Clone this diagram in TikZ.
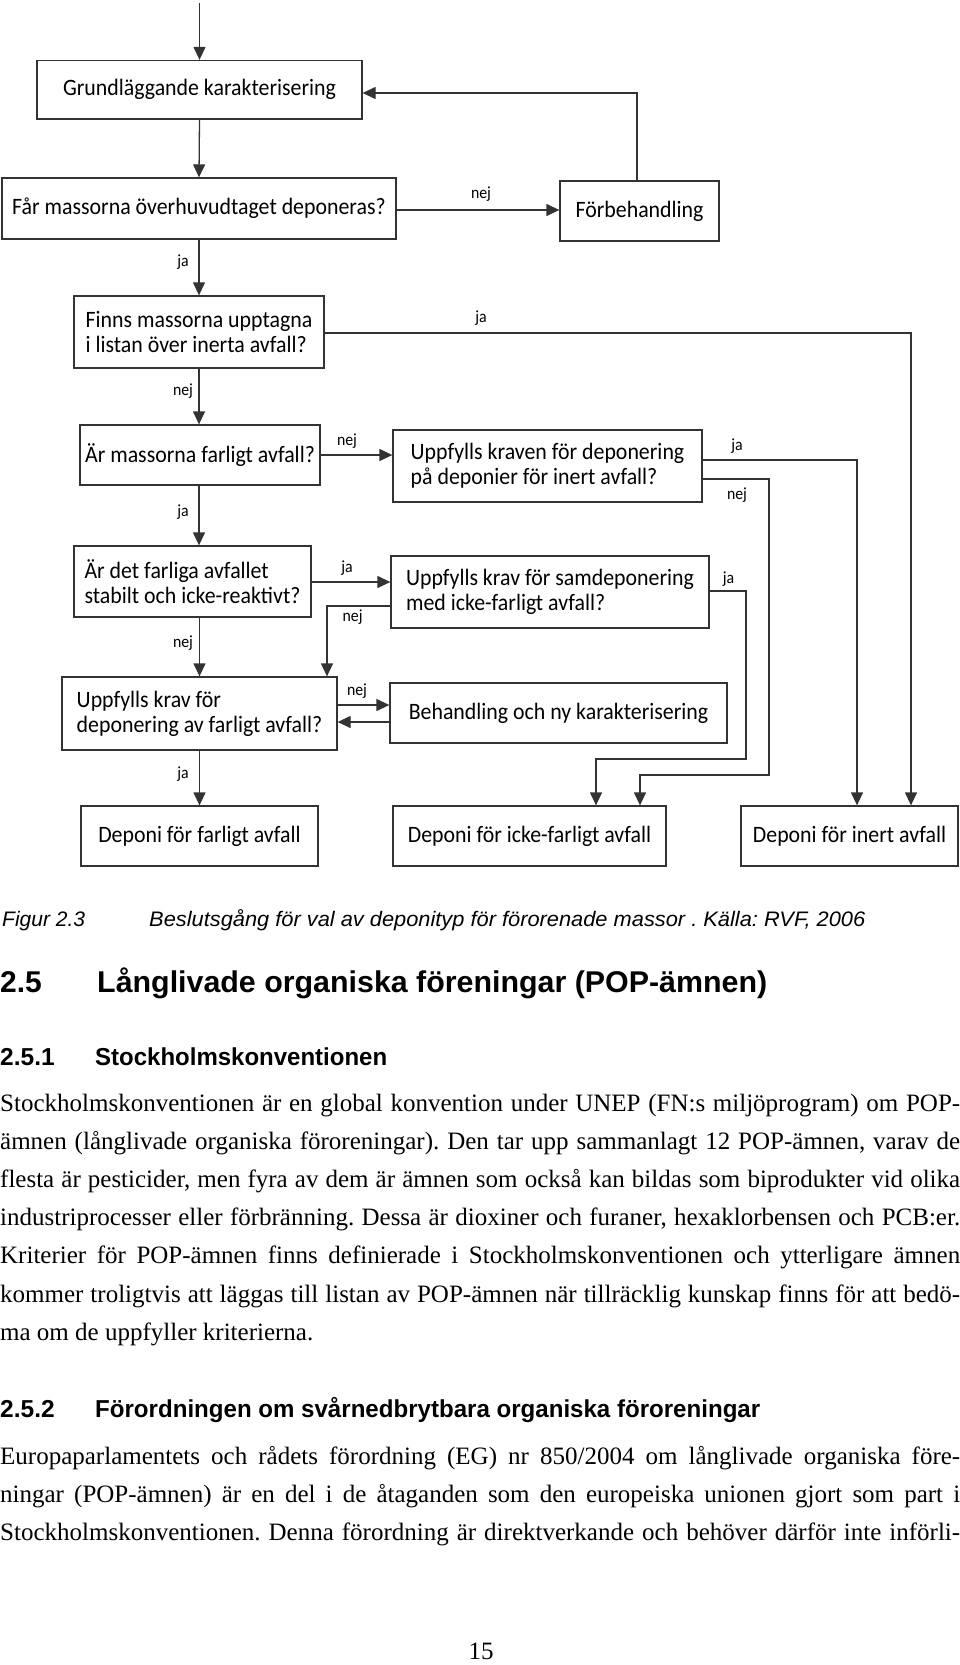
\documentclass[tikz,border=0pt]{standalone}
\usepackage{fontspec}
\usepackage{graphicx}
\usetikzlibrary{arrows.meta,calc}
\setmainfont{Liberation Serif}
\newfontfamily\boxfont[FakeStretch=0.93]{Carlito}
\newfontfamily\capfont{Liberation Sans}
\newfontfamily\headfont{Liberation Sans}
\newsavebox\jbox
\newcommand\jline[1]{\sbox\jbox{#1}\ifdim\wd\jbox>960pt\relax\resizebox{960pt}{\height}{#1}\else\makebox[960pt][s]{#1}\fi}
\frenchspacing
\tikzset{
  box/.style={draw=black!80, line width=1.3pt, inner sep=0pt, align=left,
    font=\boxfont\fontsize{23.5}{25}\selectfont},
  arr/.style={draw=black!80, line width=1.3pt, -{Triangle[length=13pt,width=12pt]}},
  ln/.style={draw=black!80, line width=1.3pt},
  lbl/.style={font=\boxfont\fontsize{17}{19}\selectfont, inner sep=0pt},
  body/.style={anchor=base west, inner sep=0pt, font=\frenchspacing\fontsize{25}{28}\selectfont},
  head/.style={anchor=base west, inner sep=0pt},
}
\begin{document}
\begin{tikzpicture}[x=1pt,y=-1pt]
\fill[white] (0,0) rectangle (960,1665);
\useasboundingbox (0,0) rectangle (960,1665);

% boxes
\node[box, minimum width=325pt, minimum height=58.5pt] (b1) at (199.5,89.75) {Grundläggande karakterisering};
\node[box, minimum width=394pt, minimum height=61pt] (b2) at (199,208.5) {Får massorna överhuvudtaget deponeras?};
\node[box, minimum width=159pt, minimum height=60pt] (fb) at (639.5,211) {Förbehandling};
\node[box, minimum width=250pt, minimum height=72pt] (b3) at (199,332) {Finns massorna upptagna\\i listan över inerta avfall?};
\node[box, minimum width=240pt, minimum height=60pt] (b4) at (200,455) {Är massorna farligt avfall?};
\node[box, minimum width=309pt, minimum height=72pt] (b9) at (547.5,466) {Uppfylls kraven för deponering\\på deponier för inert avfall?};
\node[box, minimum width=237pt, minimum height=71pt] (b5) at (192.5,581.5) {Är det farliga avfallet\\stabilt och icke-reaktivt?};
\node[box, minimum width=318pt, minimum height=72pt] (b6) at (550,592) {Uppfylls krav för samdeponering\\med icke-farligt avfall?};
\node[box, minimum width=275pt, minimum height=73pt] (b7) at (199.5,713.5) {Uppfylls krav för\\deponering av farligt avfall?};
\node[box, minimum width=337pt, minimum height=60pt] (b8) at (558.5,713) {Behandling och ny karakterisering};
\node[box, minimum width=237pt, minimum height=60pt] (b12) at (199.5,836) {Deponi för farligt avfall};
\node[box, minimum width=273pt, minimum height=60pt] (b10) at (529.5,836) {Deponi för icke-farligt avfall};
\node[box, minimum width=217pt, minimum height=60pt] (b11) at (849.5,836) {Deponi för inert avfall};

% helper coordinates
\coordinate (top) at (199.5,3);
\coordinate (c0) at (637,93);
\coordinate (c1) at (911,333);
\coordinate (c2) at (857,460);
\coordinate (c3) at (769,479);
\coordinate (c3b) at (640,775);
\coordinate (c4) at (746,591);
\coordinate (c4b) at (596,759);
\coordinate (c5) at (327,606);

% connectors
\draw[arr] (top) -- (b1.north);
\draw[arr] (b1.south) -- (b2.north);
\draw[arr] (b2.east |- 0,210) -- (fb.west |- 0,210);
\draw[arr] (fb.north -| c0) -- (c0) -- (b1.east |- c0);
\draw[arr] (b2.south) -- (b3.north);
\draw[arr] (b3.east |- c1) -- (c1) -- (c1 |- b11.north);
\draw[arr] (b3.south) -- (b4.north -| b3.south);
\draw[arr] (b4.east) -- (b9.west |- b4.east);
\draw[arr] (b9.east |- c2) -- (c2) -- (c2 |- b11.north);
\draw[arr] (b9.east |- c3) -- (c3) -- (c3 |- c3b) -- (c3b) -- (c3b |- b10.north);
\draw[arr] (b4.south -| b3.south) -- (b5.north -| b3.south);
\draw[arr] (b5.east |- 0,582) -- (b6.west |- 0,582);
\draw[arr] (b6.west |- c5) -- (c5) -- (c5 |- b7.north);
\draw[arr] (b6.east |- c4) -- (c4) -- (c4 |- c4b) -- (c4b) -- (c4b |- b10.north);
\draw[arr] (b5.south -| b7.north) -- (b7.north);
\draw[arr] (b7.east |- 0,705) -- (b8.west |- 0,705);
\draw[arr] (b8.west |- 0,722) -- (b7.east |- 0,722);
\draw[arr] (b7.south) -- (b12.north);

% labels
\node[lbl] (l1) at (481,194) {nej};
\node[lbl] (l2) at (183,262) {ja};
\node[lbl] (l3) at (481,318.6) {ja};
\node[lbl] (l4) at (183,391) {nej};
\node[lbl] (l5) at (347,441) {nej};
\node[lbl] (l6) at (737,446) {ja};
\node[lbl] (l7) at (737,495) {nej};
\node[lbl] (l8) at (183,512) {ja};
\node[lbl] (l9) at (347,568) {ja};
\node[lbl] (l10) at (352.6,617) {nej};
\node[lbl] (l11) at (728.5,579) {ja};
\node[lbl] (l12) at (183,643.5) {nej};
\node[lbl] (l13) at (357,691) {nej};
\node[lbl] (l14) at (183,774) {ja};

% caption
\node[head, font=\capfont\itshape\fontsize{21}{24}\selectfont] (cap1) at (2,926) {Figur 2.3};
\node[head, font=\capfont\itshape\fontsize{21}{24}\selectfont] (cap2) at (149,926) {\resizebox{716pt}{\height}{Beslutsgång för val av deponityp för förorenade massor . Källa: RVF, 2006}};

% headings
\node[head, font=\headfont\bfseries\fontsize{30}{34}\selectfont] (h1) at (0,992) {2.5};
\node[head, font=\headfont\bfseries\fontsize{30}{34}\selectfont] (h1t) at (97,992) {\resizebox{670pt}{\height}{Långlivade organiska föreningar (POP-ämnen)}};
\node[head, font=\headfont\bfseries\fontsize{24.5}{28}\selectfont] (h2) at (0,1065) {2.5.1};
\node[head, font=\headfont\bfseries\fontsize{24.5}{28}\selectfont] (h2t) at (95,1065) {\resizebox{292pt}{\height}{Stockholmskonventionen}};
\node[head, font=\headfont\bfseries\fontsize{24.5}{28}\selectfont] (h3) at (0,1417) {2.5.2};
\node[head, font=\headfont\bfseries\fontsize{24.5}{28}\selectfont] (h3t) at (95,1417) {\resizebox{665pt}{\height}{Förordningen om svårnedbrytbara organiska föroreningar}};

% paragraph 1
\node[body] (p1) at (0,1111) {\jline{Stockholmskonventionen är en global konvention under UNEP (FN:s miljöprogram) om POP-}};
\node[body] (p2) at (0,1149.2) {\jline{ämnen (långlivade organiska föroreningar). Den tar upp sammanlagt 12 POP-ämnen, varav de}};
\node[body] (p3) at (0,1187.4) {\jline{flesta är pesticider, men fyra av dem är ämnen som också kan bildas som biprodukter vid olika}};
\node[body] (p4) at (0,1225.6) {\jline{industriprocesser eller förbränning. Dessa är dioxiner och furaner, hexaklorbensen och PCB:er.}};
\node[body] (p5) at (0,1263.8) {\jline{Kriterier för POP-ämnen finns definierade i Stockholmskonventionen och ytterligare ämnen}};
\node[body] (p6) at (0,1302) {\jline{kommer troligtvis att läggas till listan av POP-ämnen när tillräcklig kunskap finns för att bedö-}};
\node[body] (p7) at (0,1340.2) {ma om de uppfyller kriterierna.};

% paragraph 2
\node[body] (q1) at (0,1464) {\jline{Europaparlamentets och rådets förordning (EG) nr 850/2004 om långlivade organiska före-}};
\node[body] (q2) at (0,1502) {\jline{ningar (POP-ämnen) är en del i de åtaganden som den europeiska unionen gjort som part i}};
\node[body] (q3) at (0,1540) {\jline{Stockholmskonventionen. Denna förordning är direktverkande och behöver därför inte införli-}};

% page number
\node[anchor=base, inner sep=0pt, font=\fontsize{25}{28}\selectfont] (pg) at (481,1659) {15};
\end{tikzpicture}
\end{document}
